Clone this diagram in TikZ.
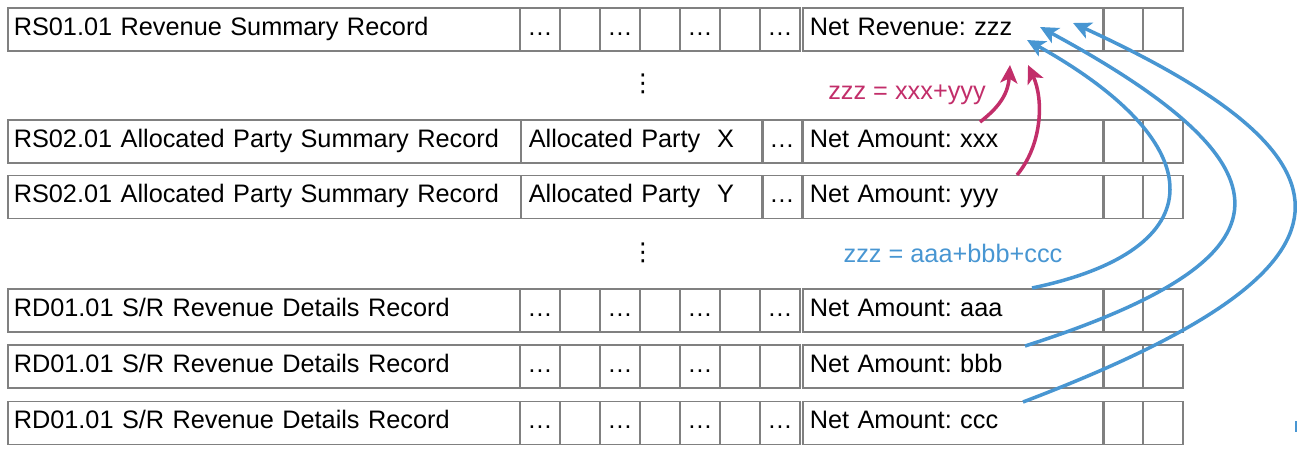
\documentclass[tikz,border=0pt]{standalone}
\usepackage{fontspec}
\setmainfont{Liberation Sans}
\newfontfamily\symfont{DejaVu Sans}
\usetikzlibrary{arrows.meta}
\definecolor{sumred}{HTML}{C22E6A}
\definecolor{sumblue}{HTML}{4896D2}
\frenchspacing

\begin{document}
\begin{tikzpicture}[
  x=0.02cm, y=-0.02cm,
  font=\fontsize{14.4}{17}\selectfont,
  rec/.style={rectangle, draw=black!50, line width=0.9pt, minimum height=0.86cm, inner ysep=0pt, text height=1.5ex, text depth=0.25ex},
  title/.style={rec, anchor=west, inner xsep=0.12cm, text width=10.02cm, align=left},
  party/.style={rec, anchor=west, inner xsep=0.16cm, text width=4.52cm, align=left},
  net/.style={rec, anchor=west, inner xsep=0.14cm, text width=5.74cm, align=left},
  cell/.style={rec, inner xsep=0pt, minimum width=0.8cm},
  vdot/.style={font=\symfont\fontsize{14}{14}\selectfont},
  arr/.style={-{Stealth[length=0.36cm, width=0.34cm, inset=0.09cm]}, line width=2pt},
]
\useasboundingbox (0,0) rectangle (1297,459);

% === Revenue summary record ===
\node[title] (rs1) at (7,29.5) {RS01.01 Revenue Summary Record};
\foreach \i/\t in {0/…,1/,2/…,3/,4/…,5/,6/…}
  \node[cell] (rs1-\i) at (540+40*\i,29.5) {\t};
\node[net] (rs1-net) at (802,29.5) {Net Revenue: zzz};
\node[cell] (rs1-e1) at (1123,29.5) {};
\node[cell] (rs1-e2) at (1163,29.5) {};

\node[vdot] (gap1) at (643,84) {⋮};

% === Allocated party summary records ===
\node[title] (rs2x) at (7,141.5) {RS02.01 Allocated Party Summary Record};
\node[party] (rs2x-party) at (520,141.5) {Allocated Party\ \ X};
\node[cell] (rs2x-6) at (782,141.5) {…};
\node[net] (rs2x-net) at (802,141.5) {Net Amount: xxx};
\node[cell] (rs2x-e1) at (1123,141.5) {};
\node[cell] (rs2x-e2) at (1163,141.5) {};

\node[title] (rs2y) at (7,197) {RS02.01 Allocated Party Summary Record};
\node[party] (rs2y-party) at (520,197) {Allocated Party\ \ Y};
\node[cell] (rs2y-6) at (782,197) {…};
\node[net] (rs2y-net) at (802,197) {Net Amount: yyy};
\node[cell] (rs2y-e1) at (1123,197) {};
\node[cell] (rs2y-e2) at (1163,197) {};

\node[vdot] (gap2) at (643,253) {⋮};

% === Revenue details records ===
\node[title] (rda) at (7,310.5) {RD01.01 S/R Revenue Details Record};
\foreach \i/\t in {0/…,1/,2/…,3/,4/…,5/,6/…}
  \node[cell] (rda-\i) at (540+40*\i,310.5) {\t};
\node[net] (rda-net) at (802,310.5) {Net Amount: aaa};
\node[cell] (rda-e1) at (1123,310.5) {};
\node[cell] (rda-e2) at (1163,310.5) {};

\node[title] (rdb) at (7,366.5) {RD01.01 S/R Revenue Details Record};
\foreach \i/\t in {0/…,1/,2/…,3/,4/…,5/,6/}
  \node[cell] (rdb-\i) at (540+40*\i,366.5) {\t};
\node[net] (rdb-net) at (802,366.5) {Net Amount: bbb};
\node[cell] (rdb-e1) at (1123,366.5) {};
\node[cell] (rdb-e2) at (1163,366.5) {};

\node[title] (rdc) at (7,423) {RD01.01 S/R Revenue Details Record};
\foreach \i/\t in {0/…,1/,2/…,3/,4/…,5/,6/…}
  \node[cell] (rdc-\i) at (540+40*\i,423) {\t};
\node[net] (rdc-net) at (802,423) {Net Amount: ccc};
\node[cell] (rdc-e1) at (1123,423) {};
\node[cell] (rdc-e2) at (1163,423) {};

% === Sum of party amounts ===
\node[text=sumred] (redsum) at (907,95) {zzz = xxx+yyy};
\coordinate (xfrom) at (980,122);
\coordinate (xto) at (1010,65);
\coordinate (yfrom) at (1017,175);
\coordinate (yto) at (1028,65);
\draw[arr, sumred] (xfrom) .. controls (998,108) and (1008,95) .. (xto);
\draw[arr, sumred] (yfrom) .. controls (1042,145) and (1044,100) .. (yto);

% === Sum of detail amounts ===
\node[text=sumblue] (bluesum) at (953,253) {zzz = aaa+bbb+ccc};
\coordinate (afrom) at (1032,288);
\coordinate (ato) at (1027,40);
\coordinate (bfrom) at (1025,346);
\coordinate (bto) at (1040,27);
\coordinate (cfrom) at (1023,402);
\coordinate (cto) at (1073,23);
\draw[arr, sumblue] (afrom) .. controls (1215,250) and (1215,145) .. (ato);
\draw[arr, sumblue] (bfrom) .. controls (1290,261) and (1310,173) .. (bto);
\draw[arr, sumblue] (cfrom) .. controls (1365,272) and (1384,166) .. (cto);

\fill[sumblue] (1295,421) rectangle (1297,432);

\end{tikzpicture}
\end{document}
